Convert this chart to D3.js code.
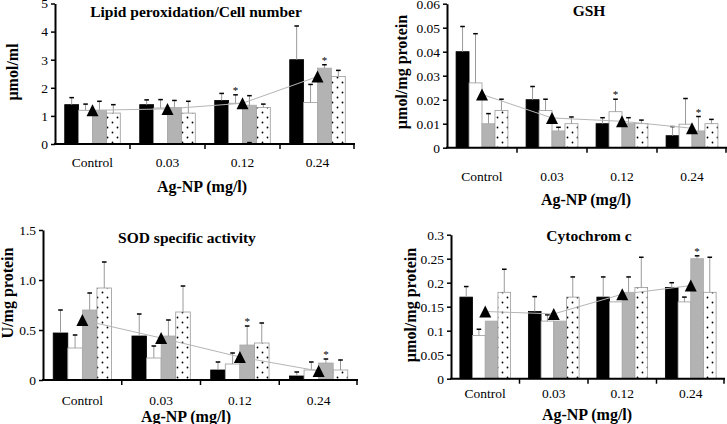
<!DOCTYPE html>
<html><head><meta charset="utf-8">
<script src="https://cdn.jsdelivr.net/npm/d3@7"></script>
<style>
body{margin:0;background:#fff}
svg{display:block}
text{font-family:"Liberation Serif","Times New Roman",serif;fill:#000}
</style>
</head><body>
<svg id="c" width="727" height="424"></svg>
<script>
// ---------- data ----------
const categories = ["Control", "0.03", "0.12", "0.24"];
const xTitle = "Ag-NP (mg/l)";

// Lipid peroxidation: bar means [category][series], upper error tips, lower tips, mean (triangles)
const lipidMeans = [[1.40, 1.20, 1.20, 1.10], [1.40, 1.28, 1.30, 1.10], [1.55, 1.45, 1.38, 1.30], [3.00, 1.48, 2.70, 2.40]];
const lipidErrHi = [[1.65, 1.42, 1.52, 1.40], [1.57, 1.58, 1.55, 1.52], [1.80, 1.75, 1.72, 1.42], [4.20, 2.12, 2.82, 2.62]];
const lipidErrLo = [[null, null, null, null], [null, null, null, null], [null, null, 0.05, null], [null, null, null, null]];
const lipidTri = [1.20, 1.25, 1.45, 2.40];
const lipidStars = [[2, 1], [3, 2]];
const lipidTicks = [0, 1, 2, 3, 4, 5];

// GSH
const gshMeans = [[0.040, 0.027, 0.010, 0.0155], [0.020, 0.0155, 0.007, 0.010], [0.010, 0.015, 0.010, 0.010], [0.005, 0.0098, 0.007, 0.010]];
const gshErrHi = [[0.0505, 0.0475, 0.0142, 0.0202], [0.0255, 0.0202, 0.0085, 0.0128], [0.0125, 0.0202, 0.0125, 0.0115], [0.0088, 0.0205, 0.013, 0.0118]];
const gshTri = [0.0222, 0.0124, 0.0110, 0.0081];
const gshStars = [[2, 1], [3, 2]];
const gshTicks = [0, 0.01, 0.02, 0.03, 0.04, 0.05, 0.06];

// SOD specific activity
const sodMeans = [[0.47, 0.32, 0.70, 0.92], [0.44, 0.22, 0.44, 0.68], [0.10, 0.16, 0.35, 0.37], [0.04, 0.10, 0.17, 0.10]];
const sodErrHi = [[0.70, 0.45, 0.87, 1.18], [0.66, 0.34, 0.60, 0.94], [0.18, 0.27, 0.54, 0.57], [0.08, 0.18, 0.21, 0.20]];
const sodTri = [0.60, 0.42, 0.23, 0.09];
const sodStars = [[2, 2], [3, 2]];
const sodTicks = [0, 0.5, 1.0, 1.5];
const sodTickLabels = ["0", "0.5", "1.0", "1.5"];

// Cytochrom c
const cytMeans = [[0.17, 0.09, 0.12, 0.18], [0.14, 0.12, 0.12, 0.17], [0.17, 0.16, 0.18, 0.19], [0.19, 0.16, 0.25, 0.18]];
const cytErrHi = [[0.192, 0.103, null, 0.228], [0.171, 0.133, null, 0.212], [0.212, null, 0.212, 0.253], [0.200, 0.170, 0.256, 0.253]];
const cytTri = [0.14, 0.135, 0.176, 0.194];
const cytStars = [[3, 2]];
const cytTicks = [0, 0.05, 0.1, 0.15, 0.2, 0.25, 0.3];

// ---------- layout ----------
const svg = d3.select("#c");
const defs = svg.append("defs");
const pat = defs.append("pattern").attr("id", "dots").attr("patternUnits", "userSpaceOnUse")
  .attr("width", 10).attr("height", 10);
pat.append("rect").attr("width", 10).attr("height", 10).attr("fill", "#fff");
pat.append("circle").attr("cx", 2.5).attr("cy", 2.5).attr("r", 0.9).attr("fill", "#000");
pat.append("circle").attr("cx", 7.5).attr("cy", 7.5).attr("r", 0.9).attr("fill", "#000");

const fills = ["#000", "#fff", "#b3b3b3", "url(#dots)"];
const strokes = ["#000", "#999", "#aaa", "#999"];

const triType = {
  draw(ctx, size) {
    const w = Math.sqrt(size);
    ctx.moveTo(0, -w / 2); ctx.lineTo(w / 2, w / 2); ctx.lineTo(-w / 2, w / 2); ctx.closePath();
  }
};

const panels = [
  { title: "Lipid peroxidation/Cell number", ylabel: "µmol/ml", means: lipidMeans, hi: lipidErrHi, lo: lipidErrLo,
    tri: lipidTri, stars: lipidStars, ticks: lipidTicks, fmt: d3.format("d"), domain: [0, 5],
    left: 55, right: 355, bottom: 144, top: 3.5, titleXY: [196, 17], ylabXY: [13, 72], tickBase: 167, xtitleXY: [202, 192] },
  { title: "GSH", ylabel: "µmol/mg protein", means: gshMeans, hi: gshErrHi, lo: null,
    tri: gshTri, stars: gshStars, ticks: gshTicks, fmt: d => d === 0 ? "0" : d3.format(".2f")(d), domain: [0, 0.06],
    left: 447, right: 727, bottom: 147.7, top: 3.7, titleXY: [589, 16], ylabXY: [402, 72], tickBase: 181, xtitleXY: [586, 205] },
  { title: "SOD specific activity", ylabel: "U/mg protein", means: sodMeans, hi: sodErrHi, lo: null,
    tri: sodTri, stars: sodStars, ticks: sodTicks, fmt: (d, i) => sodTickLabels[i], domain: [0, 1.5],
    left: 43, right: 358, bottom: 380, top: 230, titleXY: [187, 243], ylabXY: [8, 293], tickBase: 405, xtitleXY: [186, 422] },
  { title: "Cytochrom c", ylabel: "µmol/mg protein", means: cytMeans, hi: cytErrHi, lo: null,
    tri: cytTri, stars: cytStars, ticks: cytTicks, fmt: d => d === 0 ? "0" : String(d), domain: [0, 0.3],
    left: 451, right: 725, bottom: 378.7, top: 234.7, titleXY: [589, 241], ylabXY: [411, 305], tickBase: 398, xtitleXY: [587, 420] }
];

function drawPanel(p) {
  const g = svg.append("g");
  const x0 = d3.scaleBand().domain(categories).range([p.left, p.right]).padding(0);
  const x1 = d3.scaleBand().domain(d3.range(4)).range([0, x0.bandwidth()]).paddingInner(0).paddingOuter(0.7);
  const y = d3.scaleLinear().domain(p.domain).range([p.bottom, p.top]);
  const bw = x1.bandwidth();

  // bars
  categories.forEach((c, i) => {
    p.means[i].forEach((v, j) => {
      g.append("rect")
        .attr("x", x0(c) + x1(j)).attr("y", y(v))
        .attr("width", bw).attr("height", y(0) - y(v))
        .attr("fill", fills[j]).attr("stroke", strokes[j]).attr("stroke-width", 0.8);
    });
  });

  // error bars
  const capW = 2.3;
  categories.forEach((c, i) => {
    p.means[i].forEach((v, j) => {
      const cx = x0(c) + x1(j) + bw / 2;
      const hi = p.hi[i][j];
      if (hi != null) {
        g.append("line").attr("x1", cx).attr("x2", cx).attr("y1", y(v)).attr("y2", y(hi))
          .attr("stroke", "#9a9a9a").attr("stroke-width", 1);
        g.append("line").attr("x1", cx - capW).attr("x2", cx + capW).attr("y1", y(hi)).attr("y2", y(hi))
          .attr("stroke", "#000").attr("stroke-width", 1.5);
      }
      const lo = p.lo ? p.lo[i][j] : null;
      if (lo != null) {
        g.append("line").attr("x1", cx - capW).attr("x2", cx + capW).attr("y1", y(lo)).attr("y2", y(lo))
          .attr("stroke", "#000").attr("stroke-width", 1.5);
      }
    });
  });

  // significance stars
  p.stars.forEach(([i, j]) => {
    const cx = x0(categories[i]) + x1(j) + bw / 2;
    const top = p.hi[i][j] != null ? p.hi[i][j] : p.means[i][j];
    g.append("text").attr("x", cx).attr("y", y(top) - 1).attr("text-anchor", "middle")
      .attr("font-size", 11).attr("fill", "#333").text("*");
  });

  // mean line + triangles
  const cxs = categories.map(c => x0(c) + x0.bandwidth() / 2);
  g.append("path")
    .datum(p.tri)
    .attr("d", d3.line().x((d, i) => cxs[i]).y(d => y(d)))
    .attr("fill", "none").attr("stroke", "#b5b5b5").attr("stroke-width", 1);
  g.selectAll(".tri").data(p.tri).enter().append("path")
    .attr("transform", (d, i) => `translate(${cxs[i]},${y(d)})`)
    .attr("d", d3.symbol().type(triType).size(144))
    .attr("fill", "#000");

  // y axis
  const ya = g.append("g").attr("transform", `translate(${p.left},0)`)
    .call(d3.axisLeft(y).tickValues(p.ticks).tickFormat(p.fmt).tickSize(4).tickSizeOuter(0).tickPadding(3));
  ya.select(".domain").attr("stroke", "#000").attr("stroke-width", 2);
  ya.selectAll(".tick line").attr("stroke", "#000").attr("stroke-width", 1.5);
  ya.selectAll("text").attr("font-size", "13.5px").attr("font-family", "Liberation Serif").attr("fill", "#000");

  // x axis
  g.append("line").attr("x1", p.left - 1).attr("x2", p.right).attr("y1", y(0)).attr("y2", y(0))
    .attr("stroke", "#000").attr("stroke-width", 2);
  const bounds = categories.slice(1).map(c => x0(c)).concat([p.right - 1]);
  bounds.forEach(bx => {
    g.append("line").attr("x1", bx).attr("x2", bx).attr("y1", y(0)).attr("y2", y(0) + 5)
      .attr("stroke", "#000").attr("stroke-width", 1.5);
  });
  g.selectAll(".xl").data(categories).enter().append("text")
    .attr("x", c => x0(c) + x0.bandwidth() / 2).attr("y", p.tickBase)
    .attr("text-anchor", "middle").attr("font-size", "13.5px").text(c => c);

  // titles
  g.append("text").attr("x", p.titleXY[0]).attr("y", p.titleXY[1]).attr("text-anchor", "middle")
    .attr("font-size", "15.5px").attr("font-weight", "bold").text(p.title);
  g.append("text").attr("x", p.xtitleXY[0]).attr("y", p.xtitleXY[1]).attr("text-anchor", "middle")
    .attr("font-size", "16px").attr("font-weight", "bold").text(xTitle);
  g.append("text").attr("transform", `translate(${p.ylabXY[0] + 5},${p.ylabXY[1]}) rotate(-90)`)
    .attr("text-anchor", "middle").attr("font-size", "16px").attr("font-weight", "bold").text(p.ylabel);
}

panels.forEach(drawPanel);
</script>
</body></html>
